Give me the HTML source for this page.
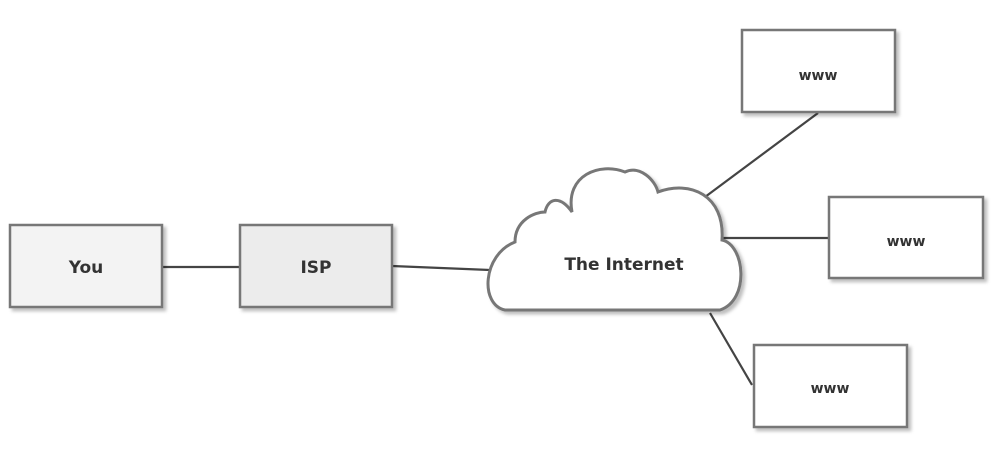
<!DOCTYPE html>
<html><head><style>
body{margin:0;background:#fff;}
svg text{font-family:"Comic Sans MS","DejaVu Sans",sans-serif;font-size:17px;fill:#333;text-anchor:middle;font-weight:bold;}
</style></head><body>
<svg width="996" height="450" viewBox="0 0 996 450">
<defs><filter id="s" x="-10%" y="-10%" width="130%" height="130%"><feDropShadow dx="3" dy="3" stdDeviation="1.5" flood-color="#000" flood-opacity="0.25"/></filter></defs>
<g stroke="#444" stroke-width="2.2" fill="none">
<line x1="162" y1="267" x2="240" y2="267"/>
<line x1="392" y1="266" x2="490" y2="270"/>
<line x1="705" y1="197" x2="818" y2="113"/>
<line x1="722" y1="238" x2="829" y2="238"/>
<line x1="710" y1="313" x2="752" y2="385"/>
</g>
<g stroke="#777" stroke-width="2.5" filter="url(#s)">
<rect x="10" y="225" width="152" height="82" fill="#f3f3f3"/>
<rect x="240" y="225" width="152" height="82" fill="#ececec"/>
<rect x="742" y="30" width="153" height="82" fill="#fff"/>
<rect x="829" y="197" width="154" height="81" fill="#fff"/>
<rect x="754" y="345" width="153" height="82" fill="#fff"/>
<path d="M505,310 C480,305 482,255 515,242 C515,220 535,212 545,212 C548,198 560,195 572,212 C565,175 600,162 625,172 C640,165 655,180 658,192 C690,180 725,195 722,240 C745,245 750,300 720,310 Z" fill="#fff" stroke-width="3"/>
</g>
<text x="86" y="273">You</text>
<text x="316" y="273">ISP</text>
<text x="818" y="80" style="font-size:14px">www</text>
<text x="906" y="246" style="font-size:14px">www</text>
<text x="830" y="393" style="font-size:14px">www</text>
<text x="624" y="270">The Internet</text>
</svg>
</body></html>
